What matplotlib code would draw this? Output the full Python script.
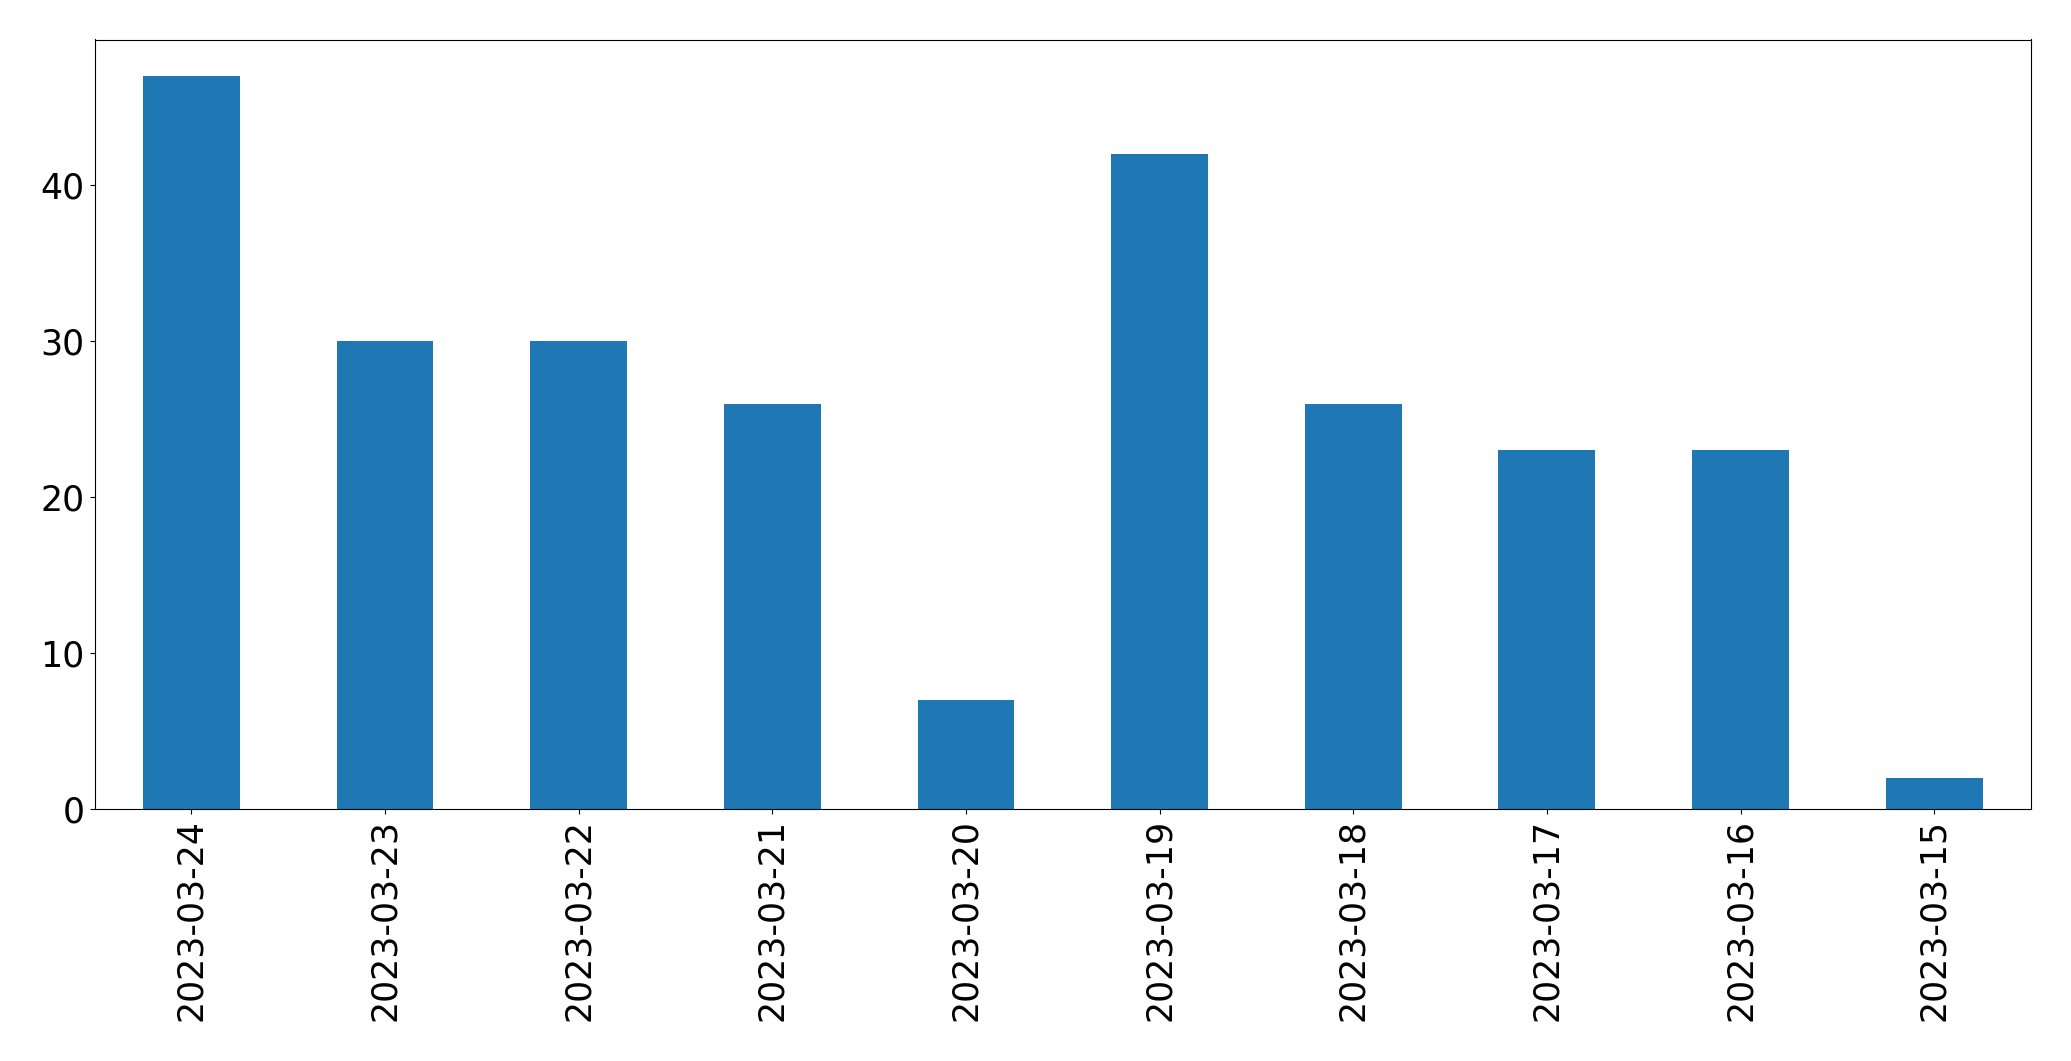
import matplotlib
matplotlib.use("Agg")
import matplotlib.pyplot as plt
import pandas as pd

dates = ["2023-03-24", "2023-03-23", "2023-03-22", "2023-03-21", "2023-03-20",
         "2023-03-19", "2023-03-18", "2023-03-17", "2023-03-16", "2023-03-15"]
counts = [47, 30, 30, 26, 7, 42, 26, 23, 23, 2]

W, H = 2071, 1061
fig = plt.figure(figsize=(W / 100, H / 100), dpi=100)
ax = fig.add_axes([94.5 / W, 1 - 809 / H, (2031 - 94.5) / W, (809 - 39.5) / H])

s = pd.Series(counts, index=dates)
s.plot(kind="bar", ax=ax, color="#1f77b4")
ax.tick_params(axis="both", labelsize=25)
ax.set_yticks([0, 10, 20, 30, 40])

fig.savefig("out.png", dpi=100)
